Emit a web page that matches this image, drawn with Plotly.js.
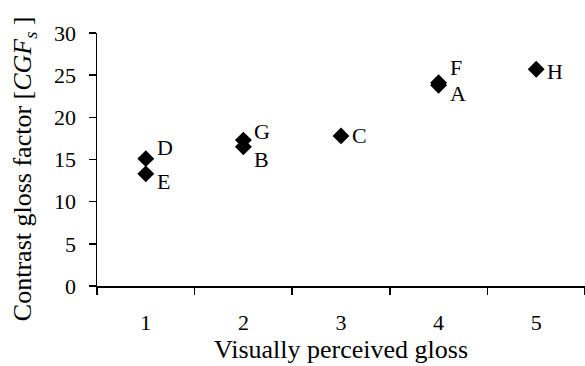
<!DOCTYPE html>
<html><head><meta charset="utf-8">
<script src="https://cdn.plot.ly/plotly-3.0.1.min.js"></script>
<style>html,body{margin:0;padding:0;background:#fff;}</style>
</head><body><div id="chart" style="width:585px;height:366px;"></div>
<script>
const categories = ["1","2","3","4","5"];
const labels = ["D","E","G","B","C","F","A","H"];
const xValues = ["1","1","2","2","3","4","4","5"];
const yValues = [15.1, 13.3, 17.3, 16.5, 17.8, 24.1, 23.8, 25.7];
const yTicks = [0,5,10,15,20,25,30];
const xTitle = "Visually perceived gloss";
const yTitle = "Contrast gloss factor [<i>CGF<sub>s</sub></i> ]";

// label placement (style only)
const labelShiftY = [11, -8, 9, -13, 0, 15, -8, -2];

const family = "Liberation Serif, Times New Roman, serif";
const tickFont = {family: family, size: 22, color: "#000"};
const labelFont = {family: family, size: 22, color: "#000"};

const annotations = labels.map((t, i) => ({
  x: categories.indexOf(xValues[i]), y: yValues[i], xref: "x", yref: "y",
  text: t, showarrow: false, xanchor: "left", yanchor: "middle",
  xshift: 9, yshift: labelShiftY[i], font: labelFont
}));
annotations.push({
  text: yTitle, xref: "paper", yref: "paper", x: -0.148, y: 0.465,
  xanchor: "center", yanchor: "middle", textangle: -90, showarrow: false,
  font: {family: family, size: 26, color: "#000"}
});

Plotly.newPlot("chart", [{
  type: "scatter", mode: "markers",
  x: xValues, y: yValues,
  marker: {symbol: "diamond", size: 13, color: "#000"},
  cliponaxis: false, hoverinfo: "skip"
}], {
  width: 585, height: 366,
  margin: {l: 97, r: 0, t: 33, b: 80},
  paper_bgcolor: "#fff", plot_bgcolor: "#fff",
  showlegend: false, font: tickFont,
  annotations: annotations,
  xaxis: {
    type: "category", categoryorder: "array", categoryarray: categories,
    range: [-0.5, 4.5], tickson: "boundaries",
    showgrid: false, zeroline: false, showline: true, linecolor: "#000", linewidth: 1.5,
    ticks: "outside", ticklen: 7, tickwidth: 1.5, tickcolor: "#000",
    ticklabelstandoff: 16, tickfont: tickFont,
    title: {text: xTitle, font: {family: family, size: 26, color: "#000"}, standoff: 1}
  },
  yaxis: {
    range: [0, 30], tickvals: yTicks,
    showgrid: false, zeroline: false, showline: true, linecolor: "#000", linewidth: 1.5,
    ticks: "outside", ticklen: 7, tickwidth: 1.5, tickcolor: "#000",
    ticklabelstandoff: 8, tickfont: tickFont
  }
}, {staticPlot: true});
</script></body></html>
